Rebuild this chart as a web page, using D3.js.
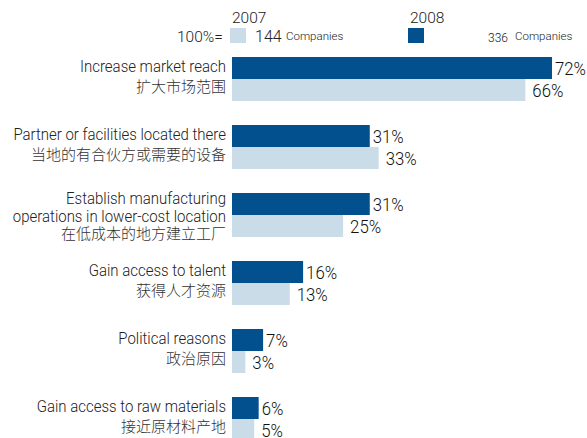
<!DOCTYPE html>
<html>
<head>
<meta charset="utf-8">
<script src="https://cdnjs.cloudflare.com/ajax/libs/d3/7.8.5/d3.min.js"></script>
<style>
  html, body { margin: 0; padding: 0; background: #fff; }
  svg { display: block; }
  .lat { font-family: Roboto, "Liberation Sans", Arial, sans-serif; font-weight: 300; fill: #222; }
  .cjk { font-family: "Noto Sans CJK SC", sans-serif; font-weight: 300; fill: #333; }
</style>
</head>
<body>
<script>
// Reasons for locating operations in China, share of companies
const reasonsEn = [
  ["Increase market reach"],
  ["Partner or facilities located there"],
  ["Establish manufacturing", "operations in lower-cost location"],
  ["Gain access to talent"],
  ["Political reasons"],
  ["Gain access to raw materials"]
];
const reasonsZh = [
  "扩大市场范围",
  "当地的有合伙方或需要的设备",
  "在低成本的地方建立工厂",
  "获得人才资源",
  "政治原因",
  "接近原材料产地"
];
const years = ["2008", "2007"];
const values2008 = [72, 31, 31, 16, 7, 6];
const values2007 = [66, 33, 25, 13, 3, 5];
const companies = { "2007": 144, "2008": 336 };

const W = 587, H = 438;
const dark = "#03508f", light = "#c9dce8";

const svg = d3.select("body").append("svg")
  .attr("width", W).attr("height", H);

// squeeze a text horizontally to imitate a condensed face
function condense(sel, f) {
  sel.each(function () {
    const w = this.getComputedTextLength();
    d3.select(this).attr("textLength", w * f).attr("lengthAdjust", "spacingAndGlyphs");
  });
}

// width factors: "Increase market reach" spans 146px, "66%" spans 31px
const probe = svg.append("text").attr("class", "lat").attr("font-size", 17).text(reasonsEn[0][0]);
const labelFactor = 146 / probe.node().getComputedTextLength();
probe.remove();
const probeV = svg.append("text").attr("class", "lat").attr("font-size", 18.5).text("66%");
const valueFactor = 31 / probeV.node().getComputedTextLength();
probeV.remove();

const idx = d3.range(reasonsZh.length);

const x = d3.scaleLinear().domain([0, 72]).range([232, 552]);
const y = d3.scaleBand().domain(idx).range([57, 57 + 68 * idx.length]).paddingInner(0);
const yIn = d3.scaleBand().domain(years).range([0, 44]);
const colour = d3.scaleOrdinal().domain(years).range([dark, light]);

const rows = idx.map(i => ({
  i,
  en: reasonsEn[i],
  zh: reasonsZh[i],
  vals: [{ year: "2008", v: values2008[i] }, { year: "2007", v: values2007[i] }]
}));

const g = svg.selectAll("g.row").data(rows).join("g")
  .attr("class", "row")
  .attr("transform", d => `translate(0,${y(d.i)})`);

// bars
g.selectAll("rect").data(d => d.vals).join("rect")
  .attr("x", x(0))
  .attr("y", d => yIn(d.year))
  .attr("width", d => x(d.v) - x(0))
  .attr("height", yIn.bandwidth())
  .attr("fill", d => colour(d.year));

// value labels
g.selectAll("text.val").data(d => d.vals).join("text")
  .attr("class", "val lat")
  .attr("x", d => x(d.v) + (d.year === "2008" ? 3 : 7))
  .attr("y", d => yIn(d.year) + yIn.bandwidth() / 2 + 7)
  .attr("font-size", 18.5)
  .style("fill", "#111")
  .text(d => d.v + "%")
  .call(condense, valueFactor);

// category labels: English lines followed by Chinese line
g.each(function (d) {
  const lines = d.en.length + 1;
  const step = lines > 2 ? 17.5 : 19.5;
  const first = lines > 2 ? 11 : 15;
  const sel = d3.select(this);
  d.en.forEach((t, k) => {
    sel.append("text").attr("class", "lat")
      .attr("x", 226).attr("y", first + k * step)
      .attr("text-anchor", "end").attr("font-size", 17)
      .text(t)
      .call(condense, labelFactor);
  });
  sel.append("text").attr("class", "cjk")
    .attr("x", 226).attr("y", first + d.en.length * step)
    .attr("text-anchor", "end").attr("font-size", 15)
    .text(d.zh);
});

// legend
const leg = svg.append("g");
leg.append("text").attr("class", "lat").attr("x", 177).attr("y", 42)
  .attr("font-size", 15.5).text("100%=");
const legendItems = [
  { year: "2007", sx: 230, numX: 255, numSize: 16, compX: 286 },
  { year: "2008", sx: 408, numX: 488, numSize: 12, compX: 515 }
];
legendItems.forEach(it => {
  leg.append("text").attr("class", "lat").attr("x", it.sx + 2).attr("y", 23)
    .attr("font-size", 15.5).text(it.year);
  leg.append("rect").attr("x", it.sx).attr("y", 28).attr("width", 16).attr("height", 15)
    .attr("fill", colour(it.year));
  leg.append("text").attr("class", "lat").attr("x", it.numX).attr("y", 41.5)
    .attr("font-size", it.numSize).text(companies[it.year]);
  leg.append("text").attr("class", "lat").attr("x", it.compX).attr("y", 40)
    .attr("font-size", 11.5).text("Companies");
});
</script>
</body>
</html>
